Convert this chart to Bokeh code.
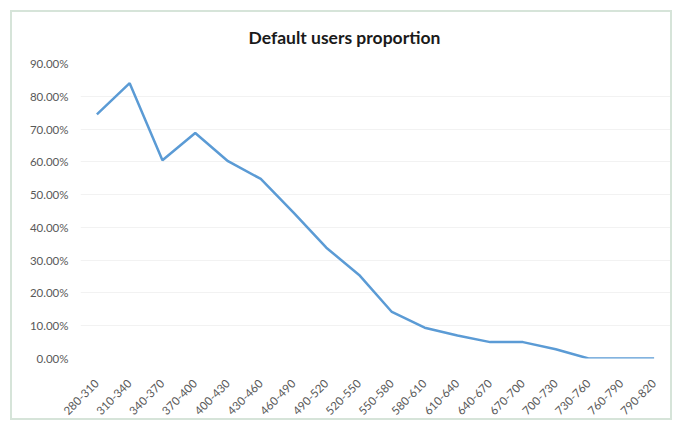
import math
from bokeh.plotting import figure
from bokeh.models import FactorRange, Range1d, NumeralTickFormatter, FixedTicker, Title
from bokeh.embed import file_html
from bokeh.resources import INLINE

title_text = "Default users proportion"
categories = ["280-310", "310-340", "340-370", "370-400", "400-430", "430-460",
              "460-490", "490-520", "520-550", "550-580", "580-610", "610-640",
              "640-670", "670-700", "700-730", "730-760", "760-790", "790-820"]
default_share = [0.745, 0.84, 0.605, 0.688, 0.602, 0.548, 0.445, 0.338, 0.255,
                 0.142, 0.094, 0.07, 0.05, 0.05, 0.028, 0.0, 0.0, 0.0]
y_ticks = [0.0, 0.1, 0.2, 0.3, 0.4, 0.5, 0.6, 0.7, 0.8, 0.9]

p = figure(width=662, height=410, x_range=FactorRange(*categories), y_range=Range1d(0, 0.9),
           output_backend="svg", toolbar_location=None,
           min_border_left=68, min_border_right=4, min_border_top=50, min_border_bottom=64)
p.margin = (10, 0, 0, 10)
p.styles = {"border": "2px solid #d6e4d9"}

p.add_layout(Title(text=title_text, align="left", offset=168, standoff=28,
                   vertical_align="top",
                   text_font="Lato", text_font_size="17.5px", text_font_style="bold",
                   text_color="#1a1a1a"), "above")

p.line(x=categories, y=default_share, line_color="#5b9bd5", line_width=2.5)

p.outline_line_color = None
p.background_fill_color = "white"
p.border_fill_color = "white"
p.xgrid.grid_line_color = None
p.ygrid.grid_line_color = "#f2f2f2"
p.ygrid.ticker = FixedTicker(ticks=y_ticks)

p.yaxis.ticker = FixedTicker(ticks=y_ticks)
p.yaxis.formatter = NumeralTickFormatter(format="0.00%")
for ax in (p.xaxis, p.yaxis):
    ax.axis_line_color = None
    ax.major_tick_line_color = None
    ax.minor_tick_line_color = None
    ax.major_label_text_font = "Lato"
    ax.major_label_text_font_size = "11.5px"
    ax.major_label_text_color = "#595959"
p.xaxis.major_label_orientation = math.pi / 4
p.yaxis.major_label_standoff = 6
p.xaxis.major_label_standoff = 17

open("out.html", "w").write(file_html(p, INLINE))
